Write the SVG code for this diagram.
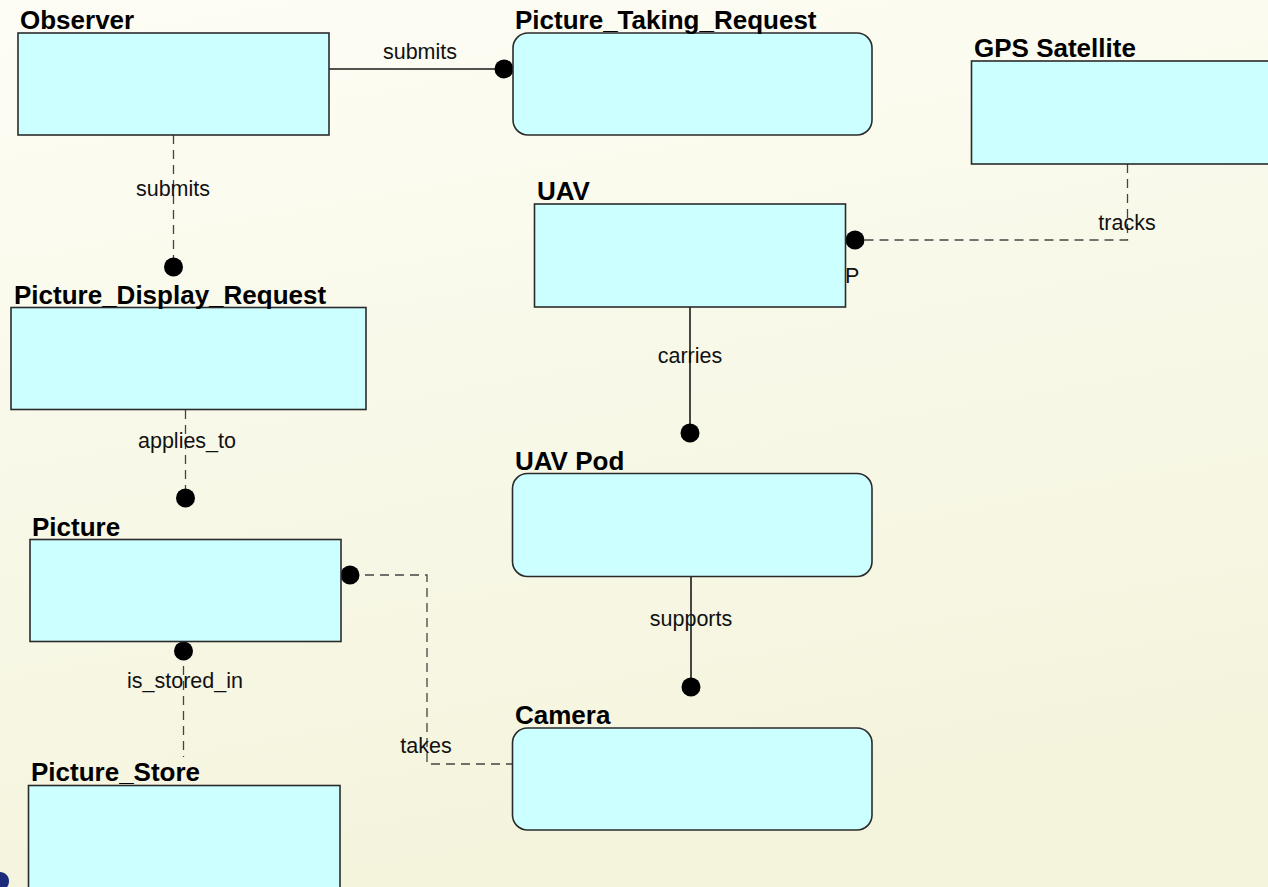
<svg xmlns="http://www.w3.org/2000/svg" width="1268" height="887" viewBox="0 0 1268 887">
<defs>
<linearGradient id="bg" x1="0" y1="0" x2="0.25" y2="1">
<stop offset="0" stop-color="#fdfdf5"/>
<stop offset="1" stop-color="#f4f4dd"/>
</linearGradient>
<style>
.box{fill:#ccffff;stroke:#2b2b2b;stroke-width:1.6}
.title{font-family:"Liberation Sans",Arial,sans-serif;font-weight:bold;font-size:26px;fill:#000}
.lbl{font-family:"Liberation Sans",Arial,sans-serif;font-size:21.5px;fill:#111;text-anchor:middle}
.solid{fill:none;stroke:#1a1a1a;stroke-width:1.6}
.dash{fill:none;stroke:#444;stroke-width:1.3;stroke-dasharray:9 6}
.dot{fill:#000}
</style>
</defs>
<rect x="0" y="0" width="1268" height="887" fill="url(#bg)"/>
<path d="M0,872 C5,872 9,876 9,881 C9,884 8,886 7,887 L0,887 Z" fill="#1c2b7a"/>

<g id="connectors">
<g id="c-submits-top">
<line class="solid" x1="329" y1="69" x2="504" y2="69"/>
<circle class="dot" cx="504" cy="69" r="9.5"/>
<text class="lbl" x="420" y="59">submits</text>
</g>
<g id="c-submits-left">
<line class="dash" x1="173.5" y1="135" x2="173.5" y2="267"/>
<circle class="dot" cx="173.5" cy="267" r="9.5"/>
<text class="lbl" x="173" y="196">submits</text>
</g>
<g id="c-applies">
<line class="dash" x1="185.5" y1="410" x2="185.5" y2="498"/>
<circle class="dot" cx="185.5" cy="498" r="9.5"/>
<text class="lbl" x="187" y="448">applies_to</text>
</g>
<g id="c-stored">
<line class="dash" x1="183.5" y1="651" x2="183.5" y2="757"/>
<circle class="dot" cx="183.5" cy="651" r="9.5"/>
<text class="lbl" x="185" y="688">is_stored_in</text>
</g>
<g id="c-takes">
<path class="dash" d="M350,575 H427 V764 H513"/>
<circle class="dot" cx="350" cy="575" r="9.5"/>
<text class="lbl" x="426" y="753">takes</text>
</g>
<g id="c-carries">
<line class="solid" x1="690" y1="307" x2="690" y2="433"/>
<circle class="dot" cx="690" cy="433" r="9.5"/>
<text class="lbl" x="690" y="363">carries</text>
</g>
<g id="c-supports">
<line class="solid" x1="691" y1="577" x2="691" y2="687"/>
<circle class="dot" cx="691" cy="687" r="9.5"/>
<text class="lbl" x="691" y="626">supports</text>
</g>
<g id="c-tracks">
<path class="dash" d="M1127.5,164 V240 H855"/>
<circle class="dot" cx="855" cy="240" r="9.5"/>
<text class="lbl" x="1127" y="230">tracks</text>
<text class="lbl" x="845" y="283" style="text-anchor:start">P</text>
</g>
</g>

<g id="observer">
<rect class="box" x="18" y="33" width="311" height="102"/>
<text class="title" x="20" y="29">Observer</text>
</g>
<g id="picture_taking_request">
<rect class="box" x="513" y="33" width="359" height="102" rx="15" ry="15"/>
<text class="title" x="515" y="29">Picture_Taking_Request</text>
</g>
<g id="gps_satellite">
<rect class="box" x="971.5" y="61" width="320" height="103"/>
<text class="title" x="974" y="57">GPS Satellite</text>
</g>
<g id="uav">
<rect class="box" x="534.5" y="204" width="311" height="103"/>
<text class="title" x="537" y="200">UAV</text>
</g>
<g id="picture_display_request">
<rect class="box" x="11" y="307.5" width="355" height="102"/>
<text class="title" x="14" y="304">Picture_Display_Request</text>
</g>
<g id="uav_pod">
<rect class="box" x="512.5" y="473.5" width="359.5" height="103" rx="15" ry="15"/>
<text class="title" x="515" y="470">UAV Pod</text>
</g>
<g id="picture">
<rect class="box" x="30" y="539.5" width="311" height="102"/>
<text class="title" x="32" y="536">Picture</text>
</g>
<g id="camera">
<rect class="box" x="512.5" y="728" width="359.5" height="102" rx="15" ry="15"/>
<text class="title" x="515" y="724">Camera</text>
</g>
<g id="picture_store">
<rect class="box" x="28.5" y="785.5" width="311.5" height="115"/>
<text class="title" x="31" y="781">Picture_Store</text>
</g>
</svg>
